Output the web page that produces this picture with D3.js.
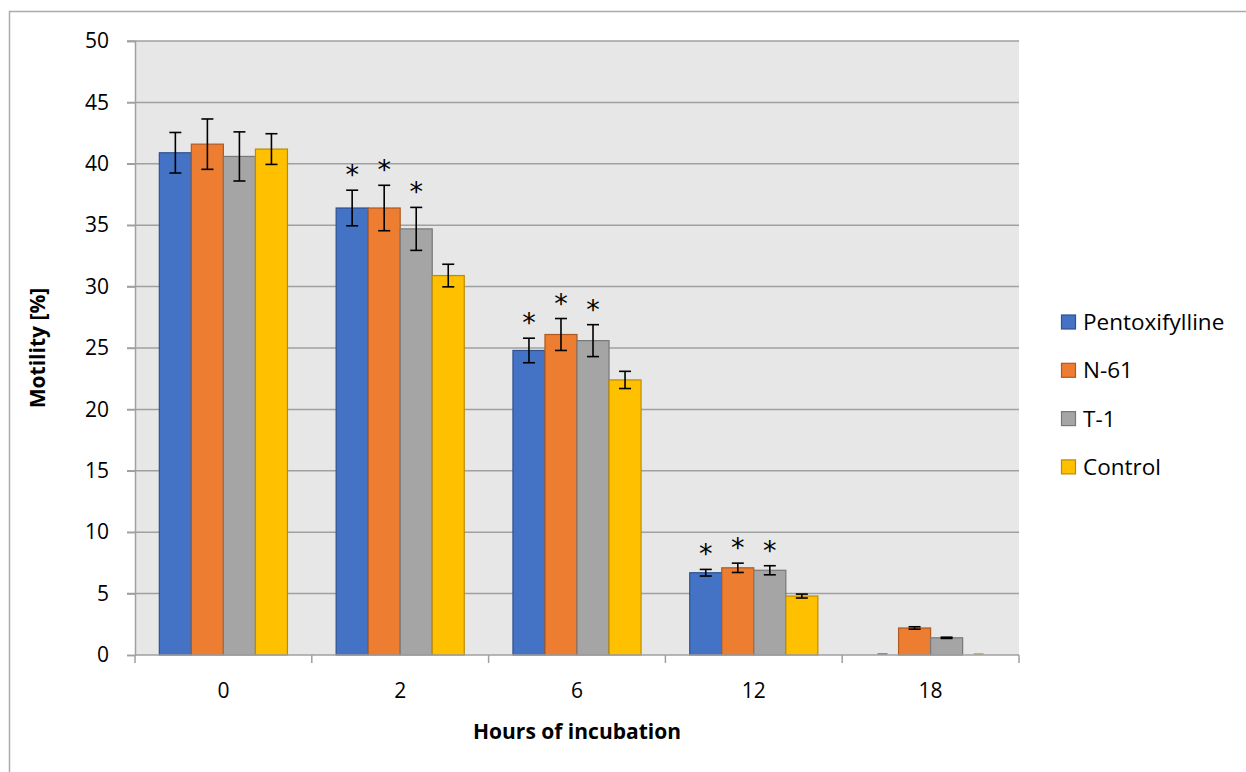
<!DOCTYPE html>
<html><head><meta charset="utf-8">
<script src="https://cdn.jsdelivr.net/npm/d3@7"></script>
<style>body{margin:0;background:#fff;font-family:"Open Sans",sans-serif;}</style>
</head><body>
<svg id="c" width="1246" height="772"></svg>
<script>
const categories = ["0","2","6","12","18"];
const seriesNames = ["Pentoxifylline","N-61","T-1","Control"];
const pentoxifylline = [40.9, 36.4, 24.8, 6.7, 0];
const n61 = [41.6, 36.4, 26.1, 7.1, 2.2];
const t1 = [40.6, 34.7, 25.6, 6.9, 1.4];
const control = [41.2, 30.9, 22.4, 4.8, 0];
const errPentoxifylline = [1.65, 1.45, 1.0, 0.27, 0];
const errN61 = [2.05, 1.85, 1.3, 0.38, 0.1];
const errT1 = [2.0, 1.75, 1.3, 0.37, 0.05];
const errControl = [1.25, 0.92, 0.7, 0.16, 0];
const sigPentoxifylline = [false, true, true, true, false];
const sigN61 = [false, true, true, true, false];
const sigT1 = [false, true, true, true, false];
const sigControl = [false, false, false, false, false];
const yTicks = [0,5,10,15,20,25,30,35,40,45,50];

const fills = ["#4472C4","#ED7D31","#A5A5A5","#FFC000"];
const strokes = ["#2F528F","#AE5A21","#787878","#BC8C00"];
const values = [pentoxifylline, n61, t1, control];
const errs = [errPentoxifylline, errN61, errT1, errControl];
const sigs = [sigPentoxifylline, sigN61, sigT1, sigControl];

const svg = d3.select("#c");
const L = 135, R = 1019, T = 41, B = 655;

// outer border (top & left)
svg.append("line").attr("x1",9).attr("x2",1246).attr("y1",11.5).attr("y2",11.5).attr("stroke","#ABABAB").attr("stroke-width",1.5);
svg.append("line").attr("x1",9.5).attr("x2",9.5).attr("y1",11).attr("y2",772).attr("stroke","#ABABAB").attr("stroke-width",1.5);

const x0 = d3.scaleBand().domain(categories).range([L,R]).padding(0);
const x1 = d3.scaleBand().domain(seriesNames).range([0, x0.bandwidth()]).paddingInner(0).paddingOuter(0.76);
const y = d3.scaleLinear().domain([0,50]).range([B,T]);

svg.append("rect").attr("x",L).attr("y",T).attr("width",R-L).attr("height",B-T).attr("fill","#E7E7E7");

// gridlines
svg.append("g").selectAll("line").data(yTicks.filter(d=>d>0)).join("line")
  .attr("x1",L-8).attr("x2",R).attr("y1",d=>y(d)).attr("y2",d=>y(d))
  .attr("stroke","#A0A0A0").attr("stroke-width",1.5);

// y axis
const yAxis = svg.append("g").attr("transform",`translate(${L},0)`)
  .call(d3.axisLeft(y).tickValues(yTicks).tickSize(8).tickPadding(18));
yAxis.select(".domain").attr("stroke","#A0A0A0").attr("stroke-width",1.5);
yAxis.selectAll(".tick line").attr("stroke","#A0A0A0").attr("stroke-width",1.5);
yAxis.selectAll("text").attr("font-size",21).attr("fill","#000").attr("font-family","'Open Sans',sans-serif");

// bars
const groups = svg.append("g").selectAll("g").data(categories).join("g")
  .attr("transform",d=>`translate(${x0(d)},0)`);
seriesNames.forEach((s,si)=>{
  groups.append("rect")
    .attr("x",x1(s)).attr("width",x1.bandwidth())
    .attr("y",(d,i)=>y(values[si][i])).attr("height",(d,i)=>B-y(values[si][i]))
    .attr("fill",fills[si]).attr("stroke",strokes[si]).attr("stroke-width",1.2);
  groups.filter((d,i)=>values[si][i]===0).append("line")
    .attr("x1",x1(s)+x1.bandwidth()/2-5).attr("x2",x1(s)+x1.bandwidth()/2+5)
    .attr("y1",B-1).attr("y2",B-1).attr("stroke",strokes[si]).attr("stroke-width",1.2);
});

// x axis
const xAxis = svg.append("g").attr("transform",`translate(0,${B})`);
xAxis.append("line").attr("x1",L).attr("x2",R).attr("y1",0).attr("y2",0).attr("stroke","#A0A0A0").attr("stroke-width",1.5);
const bounds = categories.map(c=>x0(c)).concat([R]);
xAxis.selectAll("line.tk").data(bounds).join("line").attr("class","tk")
  .attr("x1",d=>d).attr("x2",d=>d).attr("y1",0).attr("y2",8).attr("stroke","#A0A0A0").attr("stroke-width",1.5);
xAxis.selectAll("text").data(categories).join("text")
  .attr("x",d=>x0(d)+x0.bandwidth()/2).attr("y",43).attr("text-anchor","middle")
  .attr("font-size",21).text(d=>d);

// error bars and stars
seriesNames.forEach((s,si)=>{
  categories.forEach((c,i)=>{
    const cx = x0(c)+x1(s)+x1.bandwidth()/2;
    const v = values[si][i], e = errs[si][i];
    const g = svg.append("g").attr("stroke","#000").attr("stroke-width",1.6);
    if (e>0){
      g.append("line").attr("x1",cx).attr("x2",cx).attr("y1",y(v-e)).attr("y2",y(v+e));
      g.append("line").attr("x1",cx-6).attr("x2",cx+6).attr("y1",y(v+e)).attr("y2",y(v+e));
      g.append("line").attr("x1",cx-6).attr("x2",cx+6).attr("y1",y(v-e)).attr("y2",y(v-e));
    }
    if (sigs[si][i]){
      svg.append("text").attr("x",cx).attr("y",y(v+e)-23+17).attr("text-anchor","middle")
        .attr("font-family","'DejaVu Sans',sans-serif")
        .attr("font-size",27).attr("fill","#000").text("*");
    }
  });
});

// axis titles
svg.append("text").attr("x",577).attr("y",739).attr("text-anchor","middle")
  .attr("font-size",21).attr("font-weight","bold").text("Hours of incubation");
svg.append("text").attr("transform","translate(45,348) rotate(-90)").attr("text-anchor","middle")
  .attr("font-size",21).attr("font-weight","bold").text("Motility [%]");

// legend
const lg = svg.append("g").selectAll("g").data(seriesNames).join("g")
  .attr("transform",(d,i)=>`translate(1061,${322+i*48.3})`);
lg.append("rect").attr("x",0.5).attr("y",-7).attr("width",14).attr("height",14)
  .attr("fill",(d,i)=>fills[i]).attr("stroke",(d,i)=>strokes[i]).attr("stroke-width",1.2);
lg.append("text").attr("x",22).attr("y",8).attr("font-size",22.5).text(d=>d);
</script>
</body></html>
